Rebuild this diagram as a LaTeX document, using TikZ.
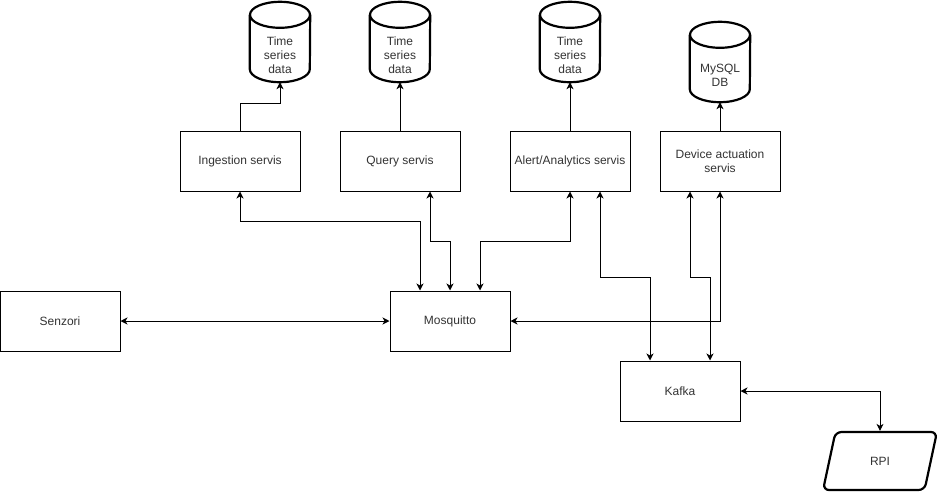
\documentclass[tikz,border=0pt]{standalone}
\usepackage{fontspec}
\setmainfont{Liberation Sans}
\usetikzlibrary{shapes.geometric,arrows.meta,calc}

\begin{document}
\begin{tikzpicture}[x=1pt, y=-1pt,
        box/.style={rectangle, draw=black, line width=1pt, minimum width=120pt, minimum height=60pt, align=center, text=black!80, font=\fontsize{12}{14}\selectfont},
        db/.style={rectangle, inner sep=0pt, minimum width=60pt, minimum height=54pt, align=center, text=black!80, font=\fontsize{12}{14}\selectfont},
        dbline/.style={draw=black, line width=2.2pt},
        device/.style={trapezium, trapezium left angle=76, trapezium right angle=104, trapezium stretches=true, draw=black, line width=2.2pt, rounded corners=6pt, minimum width=114pt, minimum height=58pt, text=black!80, font=\fontsize{12}{14}\selectfont},
        arrow/.style={-{Stealth[length=7pt, width=7pt, inset=2pt]}, line width=1pt},
        biarrow/.style={{Stealth[length=7pt, width=7pt, inset=2pt]}-{Stealth[length=7pt, width=7pt, inset=2pt]}, line width=1pt}
    ]
        \useasboundingbox (0,0) rectangle (942,493);

        % Storage (top row)
        \foreach \x/\n in {280/ts1, 400/ts2, 570/ts3} {
            \node[db] (\n) at (\x,55) {Time\\series\\data};
        }
        \node[db] (sql) at (720,75) {MySQL\\DB};

        % Cylinder outlines
        \foreach \n in {ts1, ts2, ts3, sql} {
            \draw[dbline] ([yshift=13pt]\n.north west) -- ([yshift=13pt]\n.south west)
                arc[start angle=180, end angle=360, x radius=30pt, y radius=13pt]
                -- ([yshift=13pt]\n.north east);
            \draw[dbline] ([yshift=13pt]\n.north) ellipse[x radius=30pt, y radius=13pt];
        }

        % Services
        \node[box] (ing) at (240,161) {Ingestion servis};
        \node[box] (qry) at (400,161) {Query servis};
        \node[box] (alr) at (570,161) {Alert/Analytics servis};
        \node[box] (dev) at (720,161) {Device actuation\\servis};

        % Broker, sensors, Kafka, RPI
        \node[box] (sen) at (60,321) {Senzori};
        \node[box] (mqtt) at (450,321) {Mosquitto};
        \node[box] (kfk) at (680,391) {Kafka};
        \node[device] (rpi) at (880,461) {RPI};

        % Services to storage
        \draw[arrow] (ing.north) -- ++(0,-27) -| (ts1.south);
        \draw[arrow] (qry.north) -- (ts2.south);
        \draw[arrow] (alr.north) -- (ts3.south);
        \draw[arrow] (dev.north) -- (sql.south);

        % Services to Mosquitto
        \draw[biarrow] (ing.south) -- ++(0,30) -| ([xshift=-30pt]mqtt.north);
        \draw[biarrow] ([xshift=30pt]qry.south) -- ++(0,50) -| (mqtt.north);
        \draw[biarrow] (alr.south) -- ++(0,50) -| ([xshift=30pt]mqtt.north);
        \draw[biarrow] (dev.south) |- (mqtt.east);
        \draw[biarrow] (sen.east) -- (mqtt.west);

        % Services to Kafka
        \draw[biarrow] ([xshift=30pt]alr.south) -- ++(0,86) -| ([xshift=-30pt]kfk.north);
        \draw[biarrow] ([xshift=-30pt]dev.south) -- ++(0,86) -| ([xshift=30pt]kfk.north);
        \draw[biarrow] (kfk.east) -| (rpi.north);

    \end{tikzpicture}
\end{document}
